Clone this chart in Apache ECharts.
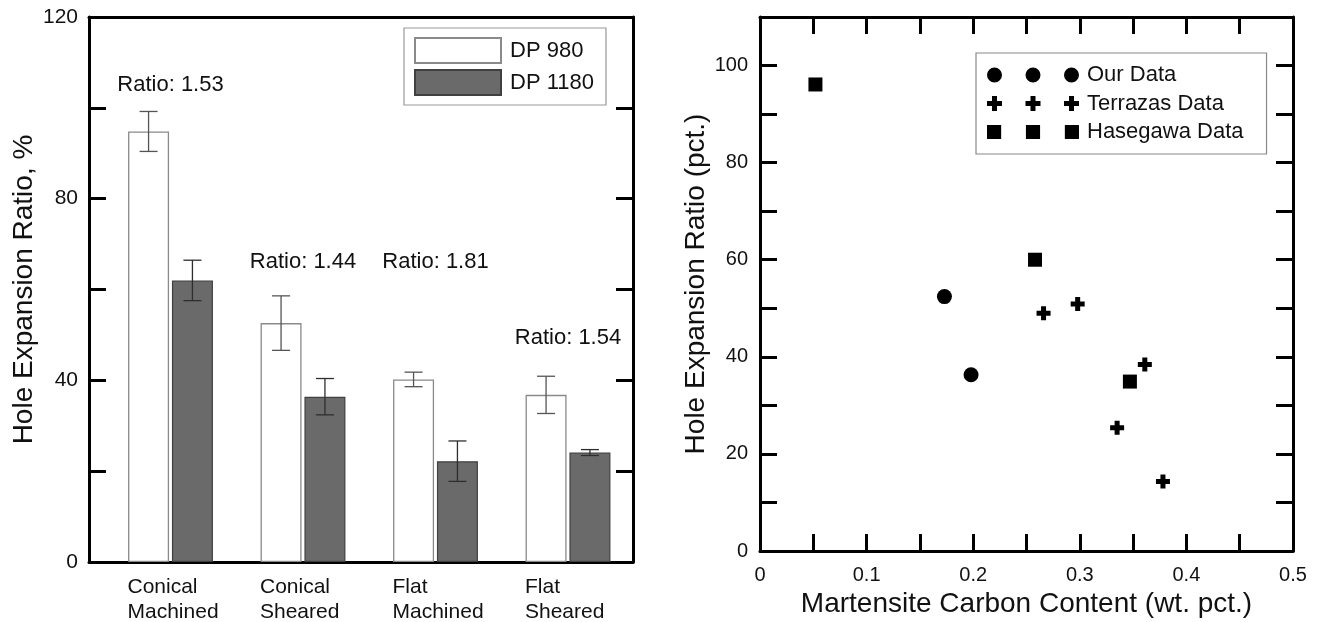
<!DOCTYPE html>
<html>
<head>
<meta charset="utf-8">
<title>Hole expansion ratio</title>
<script src="https://cdn.jsdelivr.net/npm/echarts@6/dist/echarts.min.js"></script>
<style>
  html, body { margin: 0; padding: 0; background: #fff; }
  #chart { width: 1319px; height: 622px; }
</style>
</head>
<body>
<div id="chart"></div>
<script>
// left panel: HER per edge condition
var categories = ['Conical\nMachined', 'Conical\nSheared', 'Flat\nMachined', 'Flat\nSheared'];
var dp980 = [94.8, 52.6, 40.2, 36.8];
var dp980Err = [4.4, 6.0, 1.6, 4.1];
var dp1180 = [62.0, 36.4, 22.2, 24.1];
var dp1180Err = [4.45, 4.0, 4.45, 0.65];
var ratioText = ['Ratio: 1.53', 'Ratio: 1.44', 'Ratio: 1.81', 'Ratio: 1.54'];
var ratioY = [105, 66, 66, 49.3];
var leftYLabels = [0, 40, 80, 120];

// right panel: HER vs martensite carbon
var ourData = [[0.173, 52.4], [0.198, 36.3]];
var terrazasData = [[0.266, 49.0], [0.298, 50.9], [0.361, 38.4], [0.335, 25.4], [0.378, 14.3]];
var hasegawaData = [[0.052, 96.1], [0.258, 60.0], [0.347, 34.9]];
var rightXLabels = [0, 0.1, 0.2, 0.3, 0.4, 0.5];
var rightYLabels = [0, 20, 40, 60, 80, 100];

var ink = '#111';
var barW = 41, barGapPct = 0.07;

function pick(list) {
    return function (v) {
        for (var i = 0; i < list.length; i++) {
            if (Math.abs(v - list[i]) < 1e-9) return String(list[i]);
        }
        return '';
    };
}

var errData = [];
categories.forEach(function (c, i) {
    errData.push([i, dp980[i] - dp980Err[i], dp980[i] + dp980Err[i], 0]);
    errData.push([i, dp1180[i] - dp1180Err[i], dp1180[i] + dp1180Err[i], 1]);
});

function renderErr(params, api) {
    var cat = api.value(0), s = api.value(3);
    var top = api.coord([cat, api.value(2)]);
    var bot = api.coord([cat, api.value(1)]);
    var x = top[0] + (s === 0 ? -1 : 1) * barW * (1 + barGapPct) / 2;
    var cap = 9;
    var st = { stroke: s === 0 ? '#555' : '#2e2e2e', lineWidth: 1.3 };
    return {
        type: 'group',
        children: [
            { type: 'line', shape: { x1: x, y1: top[1], x2: x, y2: bot[1] }, style: st },
            { type: 'line', shape: { x1: x - cap, y1: top[1], x2: x + cap, y2: top[1] }, style: st },
            { type: 'line', shape: { x1: x - cap, y1: bot[1], x2: x + cap, y2: bot[1] }, style: st }
        ]
    };
}

// frame axes must stay on their own side, so onZero is off everywhere
function frameLine() { return { show: true, onZero: false, lineStyle: { color: '#000', width: 3 } }; }
function inTick() { return { show: true, inside: true, length: 17, lineStyle: { color: '#000', width: 3 } }; }

var plusPath = 'path://M4.5,0h5v4.5h4.5v5h-4.5v4.5h-5v-4.5h-4.5v-5h4.5z';
var iconCircles = 'path://M0,7.5a7.5,7.5 0 1,0 15,0a7.5,7.5 0 1,0 -15,0zM38.5,7.5a7.5,7.5 0 1,0 15,0a7.5,7.5 0 1,0 -15,0zM77,7.5a7.5,7.5 0 1,0 15,0a7.5,7.5 0 1,0 -15,0z';
var iconPlus = 'path://M5,0h5v5h5v5h-5v5h-5v-5h-5v-5h5zM43.5,0h5v5h5v5h-5v5h-5v-5h-5v-5h5zM82,0h5v5h5v5h-5v5h-5v-5h-5v-5h5z';
var iconSquares = 'path://M0.5,0.5h14v14h-14zM39,0.5h14v14h-14zM77.5,0.5h14v14h-14z';

var chart = echarts.init(document.getElementById('chart'));
chart.setOption({
    animation: false,
    backgroundColor: '#fff',
    textStyle: { fontFamily: 'Liberation Sans, Arial, sans-serif', color: ink },
    grid: [
        { left: 89, top: 17, width: 544, height: 545, outerBoundsMode: 'none' },
        { left: 104.25, top: 17, width: 530, height: 545, outerBoundsMode: 'none' },
        { left: 760, top: 17, width: 533, height: 534, outerBoundsMode: 'none' }
    ],
    legend: [
        {
            data: [{ name: 'DP 980', icon: 'rect' }, { name: 'DP 1180', icon: 'rect' }],
            orient: 'vertical', left: 404, top: 28,
            itemWidth: 86, itemHeight: 25, itemGap: 5,
            padding: [9, 12, 9, 10],
            borderColor: '#999', borderWidth: 1.2,
            selectedMode: false,
            textStyle: { fontSize: 22, color: ink, padding: [0, 0, 0, 4] }
        },
        {
            data: [
                { name: 'Our Data', icon: iconCircles },
                { name: 'Terrazas Data', icon: iconPlus },
                { name: 'Hasegawa Data', icon: iconSquares }
            ],
            orient: 'vertical', left: 976, top: 53,
            itemWidth: 92, itemHeight: 15, itemGap: 6.5,
            padding: [11, 23, 11, 11],
            borderColor: '#888', borderWidth: 1.2,
            selectedMode: false,
            itemStyle: { opacity: 1 },
            textStyle: { fontSize: 22, color: ink, padding: [0, 0, 0, 3] }
        }
    ],
    xAxis: [
        { gridIndex: 0, type: 'value', min: 0, max: 1, position: 'bottom',
          axisLine: frameLine(), axisTick: { show: false }, axisLabel: { show: false }, splitLine: { show: false } },
        { gridIndex: 0, type: 'value', min: 0, max: 1, position: 'top',
          axisLine: frameLine(), axisTick: { show: false }, axisLabel: { show: false }, splitLine: { show: false } },
        { gridIndex: 1, type: 'category', data: categories, position: 'bottom',
          axisLine: { show: false, onZero: false }, axisTick: { show: false }, splitLine: { show: false },
          axisLabel: {
              margin: 13, interval: 0,
              formatter: function (v) {
                  return v.split('\n').map(function (s) { return '{a|' + s + '}'; }).join('\n');
              },
              rich: { a: { width: 86, align: 'left', fontSize: 21, lineHeight: 25, color: ink } }
          } },
        { gridIndex: 2, type: 'value', min: 0, max: 0.5, interval: 0.05, position: 'bottom',
          name: 'Martensite Carbon Content (wt. pct.)', nameLocation: 'middle', nameGap: 39,
          nameTextStyle: { fontSize: 28, color: ink },
          axisLine: frameLine(), axisTick: inTick(), splitLine: { show: false },
          axisLabel: { fontSize: 20, margin: 14, color: ink, formatter: pick(rightXLabels) } },
        { gridIndex: 2, type: 'value', min: 0, max: 0.5, interval: 0.05, position: 'top',
          axisLine: frameLine(), axisTick: inTick(), axisLabel: { show: false }, splitLine: { show: false } }
    ],
    yAxis: [
        { gridIndex: 0, type: 'value', min: 0, max: 120, interval: 20, position: 'left',
          name: 'Hole Expansion Ratio, %', nameLocation: 'middle', nameGap: 51,
          nameTextStyle: { fontSize: 28, color: ink },
          axisLine: frameLine(), axisTick: inTick(), splitLine: { show: false },
          axisLabel: { fontSize: 21, margin: 11, color: ink, formatter: pick(leftYLabels) } },
        { gridIndex: 0, type: 'value', min: 0, max: 120, interval: 20, position: 'right',
          axisLine: frameLine(), axisTick: inTick(), axisLabel: { show: false }, splitLine: { show: false } },
        { gridIndex: 1, type: 'value', min: 0, max: 120, show: false },
        { gridIndex: 2, type: 'value', min: 0, max: 110, interval: 10, position: 'left',
          name: 'Hole Expansion Ratio (pct.)', nameLocation: 'middle', nameGap: 48,
          nameTextStyle: { fontSize: 28, color: ink },
          axisLine: frameLine(), axisTick: inTick(), splitLine: { show: false },
          axisLabel: { fontSize: 20, margin: 12, color: ink, formatter: pick(rightYLabels) } },
        { gridIndex: 2, type: 'value', min: 0, max: 110, interval: 10, position: 'right',
          axisLine: frameLine(), axisTick: inTick(), axisLabel: { show: false }, splitLine: { show: false } }
    ],
    series: [
        { name: 'DP 980', type: 'bar', xAxisIndex: 2, yAxisIndex: 2, data: dp980,
          barWidth: barW, barGap: (barGapPct * 100) + '%',
          itemStyle: { color: '#fff', borderColor: '#8a8a8a', borderWidth: 1.3 } },
        { name: 'DP 1180', type: 'bar', xAxisIndex: 2, yAxisIndex: 2, data: dp1180,
          barWidth: barW, barGap: (barGapPct * 100) + '%',
          itemStyle: { color: '#6a6a6a', borderColor: '#404040', borderWidth: 1.2 } },
        { name: 'errors', type: 'custom', xAxisIndex: 2, yAxisIndex: 2, data: errData,
          renderItem: renderErr, silent: true, z: 5 },
        { name: 'ratios', type: 'scatter', xAxisIndex: 2, yAxisIndex: 2, silent: true,
          data: ratioText.map(function (t, i) { return { name: t, value: [i, ratioY[i]] }; }),
          symbolSize: 1, itemStyle: { color: 'rgba(0,0,0,0)' },
          label: { show: true, position: 'inside', formatter: '{b}', fontSize: 22,
                   color: ink, textBorderWidth: 0, opacity: 1 } },
        { name: 'Our Data', type: 'scatter', xAxisIndex: 3, yAxisIndex: 3, data: ourData,
          symbol: 'circle', symbolSize: 15, itemStyle: { color: '#000', opacity: 1 } },
        { name: 'Terrazas Data', type: 'scatter', xAxisIndex: 3, yAxisIndex: 3, data: terrazasData,
          symbol: plusPath, symbolSize: 14, itemStyle: { color: '#000', opacity: 1 } },
        { name: 'Hasegawa Data', type: 'scatter', xAxisIndex: 3, yAxisIndex: 3, data: hasegawaData,
          symbol: 'rect', symbolSize: 14, itemStyle: { color: '#000', opacity: 1 } }
    ]
});
</script>
</body>
</html>
